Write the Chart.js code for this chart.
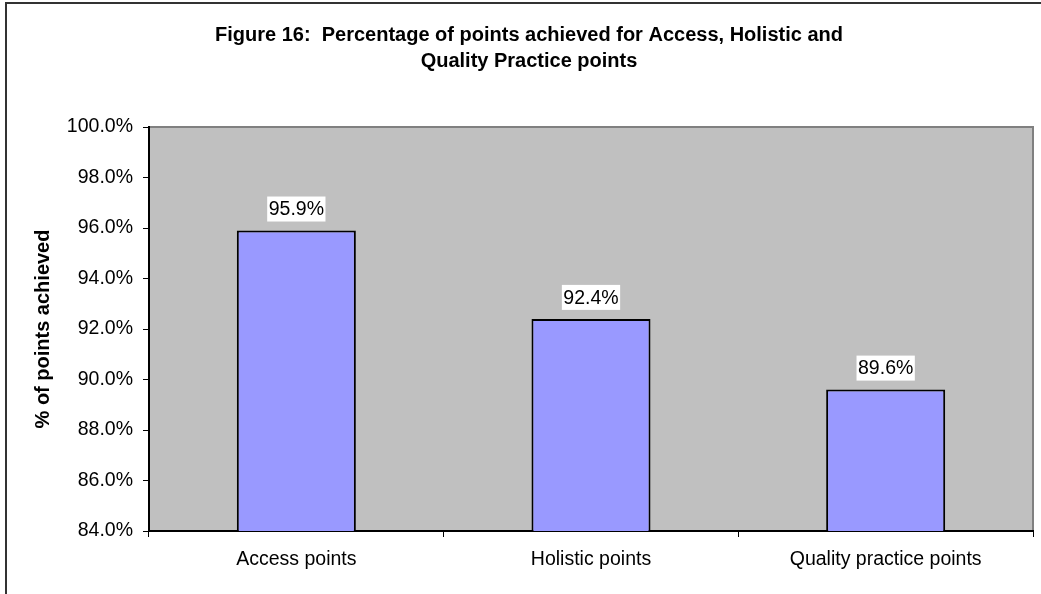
<!DOCTYPE html>
<html>
<head>
<meta charset="utf-8">
<script src="https://cdn.jsdelivr.net/npm/chart.js@4/dist/chart.umd.min.js"></script>
<style>
  html, body { margin: 0; padding: 0; background: #fff; overflow: hidden; }
  #wrap { width: 1041px; height: 594px; }
</style>
</head>
<body>
<div id="wrap"><canvas id="figChart"></canvas></div>
<script>
const categories = ['Access points', 'Holistic points', 'Quality practice points'];
const pctAchieved = [95.9, 92.4, 89.6];
const yTicks = [84, 86, 88, 90, 92, 94, 96, 98, 100];
const titleLines = ['Figure 16:  Percentage of points achieved for Access, Holistic and', 'Quality Practice points'];

const FONT = '"Liberation Sans", Arial, sans-serif';

// Outer frame, grey plot area and its border
const frameAndPlot = {
  id: 'frameAndPlot',
  beforeDraw(chart) {
    const { ctx, chartArea: a } = chart;
    ctx.save();
    ctx.fillStyle = '#fff';
    ctx.fillRect(0, 0, chart.width, chart.height);
    ctx.strokeStyle = '#333';
    ctx.lineWidth = 2;
    ctx.strokeRect(6, 3, chart.width + 20, chart.height + 20);
    ctx.fillStyle = '#c0c0c0';
    ctx.fillRect(a.left, a.top, a.right - a.left, a.bottom - a.top);
    ctx.strokeStyle = '#808080';
    ctx.lineWidth = 2;
    ctx.beginPath();
    ctx.moveTo(a.left, a.top);
    ctx.lineTo(a.right, a.top);
    ctx.lineTo(a.right, a.bottom);
    ctx.stroke();
    ctx.restore();
  },
  afterDraw(chart) {
    const { ctx } = chart;
    ctx.save();
    ctx.fillStyle = '#000';
    ctx.font = 'bold 20px ' + FONT;
    ctx.textAlign = 'center';
    ctx.textBaseline = 'middle';
    ctx.fillText(titleLines[0], 529, 35);
    ctx.fillText(titleLines[1], 529, 61);
    ctx.restore();
  }
};

// Value labels in white boxes above each bar
const valueLabels = {
  id: 'valueLabels',
  afterDatasetsDraw(chart) {
    const { ctx } = chart;
    const meta = chart.getDatasetMeta(0);
    ctx.save();
    ctx.font = '19.5px ' + FONT;
    ctx.textAlign = 'center';
    ctx.textBaseline = 'middle';
    meta.data.forEach((bar, i) => {
      const txt = pctAchieved[i].toFixed(1) + '%';
      const w = ctx.measureText(txt).width + 3;
      const h = 25;
      const bottom = bar.y - 9;
      ctx.fillStyle = '#fff';
      ctx.fillRect(bar.x - w / 2, bottom - h, w, h);
      ctx.fillStyle = '#000';
      ctx.fillText(txt, bar.x, bottom - h / 2 + 1);
    });
    ctx.restore();
  }
};

new Chart(document.getElementById('figChart'), {
  type: 'bar',
  data: {
    labels: categories,
    datasets: [{
      data: pctAchieved,
      backgroundColor: '#9999ff',
      borderColor: '#000',
      borderWidth: 2,
      borderSkipped: false,
      categoryPercentage: 1,
      barPercentage: 0.404
    }]
  },
  options: {
    responsive: true,
    maintainAspectRatio: false,
    animation: false,
    layout: { padding: { left: 6, right: 8, top: 127, bottom: 0 } },
    plugins: {
      legend: { display: false },
      title: { display: false },
      tooltip: { enabled: false }
    },
    scales: {
      x: {
        offset: true,
        grid: { offset: true, drawOnChartArea: false, drawTicks: true, tickLength: 6, color: '#000', lineWidth: 1 },
        border: { color: '#000', width: 2 },
        ticks: { color: '#000', font: { family: FONT, size: 19.5 }, padding: 11, maxRotation: 0 },
        afterFit(scale) { scale.height = 63; }
      },
      y: {
        min: 84,
        max: 100,
        afterBuildTicks(scale) { scale.ticks = yTicks.map(v => ({ value: v })); },
        grid: { drawOnChartArea: false, drawTicks: true, tickLength: 6, color: '#000', lineWidth: 1 },
        border: { color: '#000', width: 2 },
        ticks: {
          color: '#000',
          font: { family: FONT, size: 19.5 },
          padding: 10,
          callback: v => Number(v).toFixed(1) + '%'
        },
        title: {
          display: true,
          text: '% of points achieved',
          color: '#000',
          font: { family: FONT, size: 20, weight: 'bold' },
          padding: { top: 25, bottom: 0 }
        },
        afterFit(scale) { scale.width = 143; }
      }
    }
  },
  plugins: [frameAndPlot, valueLabels]
});
</script>
</body>
</html>
